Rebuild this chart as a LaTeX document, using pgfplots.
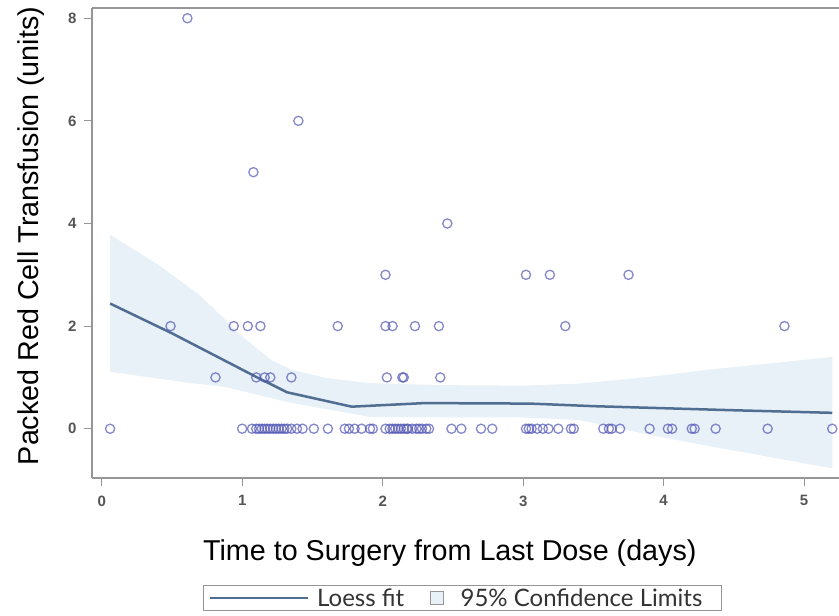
\documentclass[border=0pt]{standalone}
\usepackage{pgfplots}
\pgfplotsset{compat=1.18}
\usepackage{fontspec}
\setmainfont{Liberation Sans}
\newfontfamily\legfont{Lato}
\definecolor{markc}{RGB}{80,85,180}
\definecolor{loessc}{RGB}{79,110,145}
\definecolor{bandc}{RGB}{232,240,248}
\definecolor{axc}{RGB}{150,150,150}
\definecolor{tickc}{RGB}{85,85,85}
\begin{document}
\begin{tikzpicture}
\path[use as bounding box] (0pt,0pt) rectangle (839pt,616pt);
\begin{axis}[
  at={(92pt,138pt)}, anchor=south west,
  scale only axis, width=747pt, height=470pt,
  xmin=-0.069, xmax=5.248, ymin=-0.96, ymax=8.20,
  axis lines*=left,
  axis line style={draw=axc, line width=1.4pt},
  tick style={draw=axc, line width=1.2pt},
  tick align=outside, major tick length=8pt,
  xtick={0,1,2,3,4,5}, ytick={0,2,4,6,8},
  /pgf/number format/assume math mode=true,
  ticklabel style={font=\fontsize{15}{18}\selectfont\bfseries, text=tickc},
  xticklabel style={yshift=-6pt},
  yticklabel style={xshift=-4pt},
  xlabel={Time to Surgery from Last Dose (days)},
  ylabel={Packed Red Cell Transfusion (units)},
  xlabel style={at={(axis description cs:0.479,0)}, anchor=center, yshift=-75pt, font=\fontsize{28.7}{34}\selectfont},
  ylabel style={at={(axis description cs:-0.081,0.515)}, anchor=center, font=\fontsize{28.7}{34}\selectfont},
  reverse legend,
  legend columns=2,
  legend style={at={(axis description cs:0.496,-0.2553)}, anchor=center,
    draw=axc, line width=1.2pt, font=\legfont\fontsize{24}{27}\selectfont,
    text=black!80, inner xsep=5pt, inner ysep=1pt,
    /tikz/every even column/.append style={column sep=24pt}},
  clip=false,
]
% confidence band
\addplot[fill=bandc, draw=none,
  legend image code/.code={\draw[axc, line width=0.9pt, fill=bandc] (0pt,-6.5pt) rectangle (13pt,6.5pt); \path (28pt,0pt);}]
 coordinates {
 (0.06,3.78) (0.40,3.20) (0.70,2.60) (1.00,1.80) (1.20,1.35) (1.35,1.15)
 (1.60,0.99) (1.90,0.89) (2.40,0.85) (3.00,0.84) (3.40,0.88) (3.90,1.01)
 (4.35,1.16) (4.75,1.27) (5.20,1.40)
 (5.20,-0.77) (4.75,-0.55) (4.35,-0.35) (3.90,-0.12) (3.40,0.17) (3.00,0.22)
 (2.40,0.22) (1.91,0.23) (1.34,0.51) (0.87,0.82) (0.63,0.89) (0.06,1.11)
 } -- cycle;
\addlegendentry{95\% Confidence Limits\kern12pt\mbox{}}
% observations
\addplot[only marks, mark=o, mark size=4.6pt, mark options={draw=markc, draw opacity=0.7, line width=1.3pt}, forget plot]
 table {
x y
0.06 0
1.00 0
1.07 0
1.10 0
1.12 0
1.14 0
1.16 0
1.18 0
1.20 0
1.22 0
1.24 0
1.26 0
1.28 0
1.30 0
1.32 0
1.35 0
1.39 0
1.43 0
1.51 0
1.61 0
1.73 0
1.76 0
1.80 0
1.85 0
1.91 0
1.93 0
2.02 0
2.05 0
2.07 0
2.09 0
2.11 0
2.13 0
2.15 0
2.17 0
2.18 0
2.21 0
2.24 0
2.26 0
2.28 0
2.31 0
2.33 0
2.49 0
2.56 0
2.70 0
2.78 0
3.02 0
3.04 0
3.06 0
3.10 0
3.14 0
3.18 0
3.25 0
3.34 0
3.36 0
3.57 0
3.61 0
3.63 0
3.69 0
3.90 0
4.03 0
4.06 0
4.20 0
4.22 0
4.37 0
4.74 0
5.20 0
0.81 1
1.10 1
1.16 1
1.20 1
1.35 1
2.03 1
2.14 1
2.15 1
2.41 1
0.49 2
0.94 2
1.04 2
1.13 2
1.68 2
2.02 2
2.07 2
2.23 2
2.40 2
3.30 2
4.86 2
2.02 3
3.02 3
3.19 3
3.75 3
2.46 4
1.08 5
1.40 6
0.61 8
 };
% loess fit
\addplot[loessc, line width=2.5pt,
  legend image code/.code={\draw[loessc, line width=2.5pt] (0pt,0pt) -- (98pt,0pt); \path (104pt,0pt);}]
 coordinates {
 (0.06,2.44) (0.50,1.86) (1.10,1.01) (1.32,0.71) (1.78,0.43) (2.30,0.50)
 (3.05,0.49) (3.50,0.44) (4.00,0.40) (4.50,0.36) (5.20,0.31)
 };
\addlegendentry{Loess fit}
\draw[axc, line width=1.4pt] (rel axis cs:0,1) -- (rel axis cs:1.01,1);
\end{axis}
\end{tikzpicture}
\end{document}
